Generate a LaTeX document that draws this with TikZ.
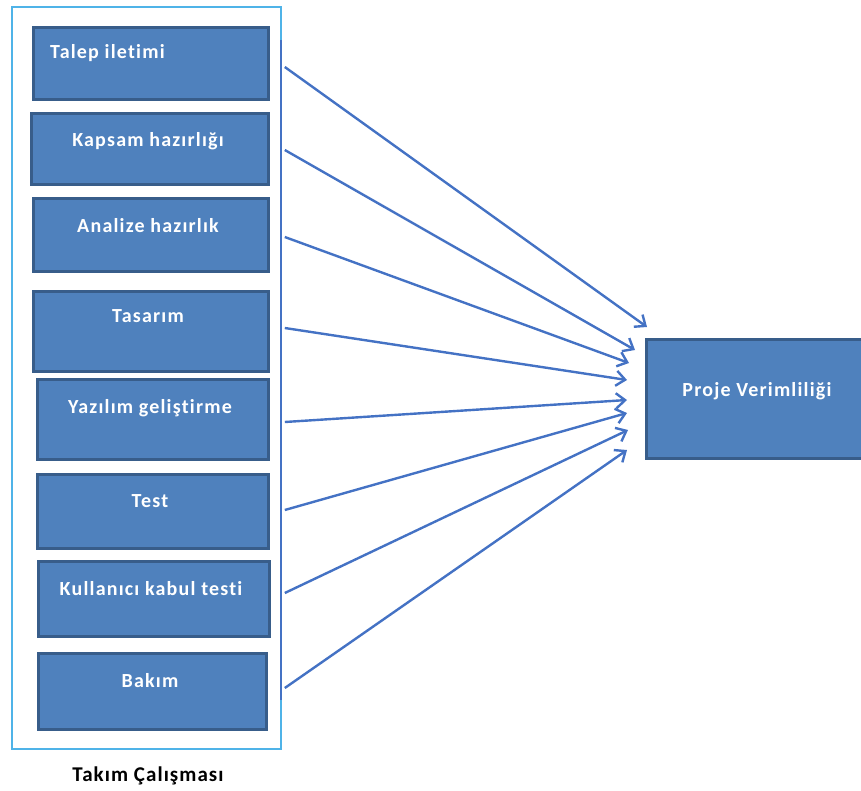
\documentclass[tikz,border=0pt]{standalone}
\usepackage{fontspec}
\setmainfont{Carlito}[Ligatures={NoCommon,TeX}]
\usetikzlibrary{arrows.meta}
\definecolor{boxfill}{HTML}{4F81BD}
\definecolor{boxline}{HTML}{385D8A}
\definecolor{arrowblue}{HTML}{4472C4}
\definecolor{framecyan}{HTML}{4FB3E8}
\tikzset{
  stepbox/.style={draw=boxline, fill=boxfill, line width=2.6pt, rectangle, inner sep=0pt},
  boxtext/.style={text=white, font=\bfseries\addfontfeatures{LetterSpace=6}\fontsize{20}{24}\selectfont, inner sep=0pt},
  flow/.style={draw=arrowblue, line width=2.4pt, -{Straight Barb[length=9pt,width=15pt,line width=2.4pt]}},
}
\begin{document}
\begin{tikzpicture}[x=1pt,y=-1pt]
\useasboundingbox (0,0) rectangle (861,790);
% outer frame
\node[draw=framecyan, line width=1.8pt, rectangle, minimum width=269pt, minimum height=742pt, inner sep=0pt, anchor=north west] (frame) at (11,6) {};
\draw[draw=arrowblue, line width=2.2pt] (281,40) -- (281,700);
% boxes
\node[stepbox, minimum width=235pt, minimum height=72pt, anchor=north west] (b1) at (32,26) {};
\node[stepbox, minimum width=237pt, minimum height=71pt, anchor=north west] (b2) at (30,112) {};
\node[stepbox, minimum width=235pt, minimum height=73pt, anchor=north west] (b3) at (32,197) {};
\node[stepbox, minimum width=235pt, minimum height=80pt, anchor=north west] (b4) at (32,290) {};
\node[stepbox, minimum width=231pt, minimum height=80pt, anchor=north west] (b5) at (36,378) {};
\node[stepbox, minimum width=231pt, minimum height=74pt, anchor=north west] (b6) at (36,473) {};
\node[stepbox, minimum width=231pt, minimum height=75pt, anchor=north west] (b7) at (37,560) {};
\node[stepbox, minimum width=228pt, minimum height=76pt, anchor=north west] (b8) at (37,652) {};
\node[stepbox, minimum width=220pt, minimum height=119pt, anchor=north west] (pv) at (645,338) {};
% texts
\node[boxtext, anchor=west] (t1) at (50,53) {Talep iletimi};
\node[boxtext] (t2) at (148,141) {Kapsam hazırlığı};
\node[boxtext] (t3) at (148,226) {Analize hazırlık};
\node[boxtext] (t4) at (148,316) {Tasarım};
\node[boxtext] (t5) at (150,408) {Yazılım geliştirme};
\node[boxtext] (t6) at (150,501) {Test};
\node[boxtext] (t7) at (151,589) {Kullanıcı kabul testi};
\node[boxtext] (t8) at (150,681) {Bakım};
\node[boxtext] (tp) at (757,391) {Proje Verimliliği};
\node[text=black, font=\bfseries\addfontfeatures{LetterSpace=5}\fontsize{21}{25}\selectfont, inner sep=0pt] (team) at (148,776) {Takım Çalışması};
% arrow start / end points
\coordinate (s1) at (frame.east |- 0,67);
\coordinate (s2) at (frame.east |- 0,150);
\coordinate (s3) at (frame.east |- 0,237);
\coordinate (s4) at (frame.east |- 0,328);
\coordinate (s5) at (frame.east |- 0,422);
\coordinate (s6) at (frame.east |- 0,510);
\coordinate (s7) at (frame.east |- 0,593);
\coordinate (s8) at (frame.east |- 0,688);
\coordinate (e1) at (647,327);
\coordinate (e2) at (635,350);
\coordinate (e3) at (629,363);
\coordinate (e4) at (627,380);
\coordinate (e5) at (627,400);
\coordinate (e6) at (627,413);
\coordinate (e7) at (628,430);
\coordinate (e8) at (627,450);
\foreach \i in {1,...,8} {\draw[flow] ([xshift=3pt]s\i) -- (e\i);}
\end{tikzpicture}
\end{document}
